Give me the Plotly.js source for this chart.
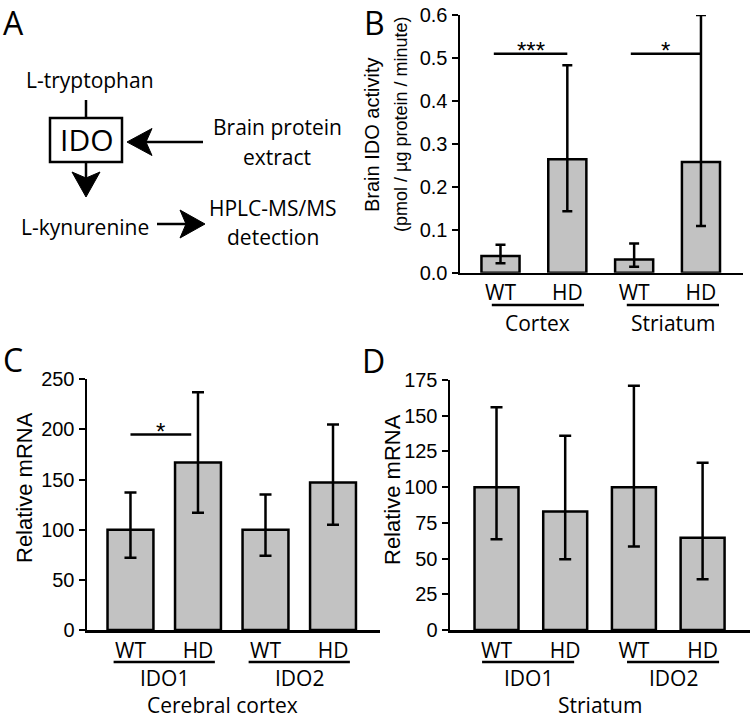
<!DOCTYPE html>
<html>
<head>
<meta charset="utf-8">
<script src="https://cdn.plot.ly/plotly-3.0.1.min.js"></script>
<style>
  body { margin: 0; background: #fff; }
  #chart { width: 750px; height: 718px; }
</style>
</head>
<body>
<div id="chart"></div>
<script>
var genotypes = ['WT', 'HD'];
var regionsB = ['Cortex', 'Striatum'];
var genesCD = ['IDO1', 'IDO2'];

// B: brain IDO activity (pmol / ug protein / minute), mean with error bar ends
var idoActivity = [0.039, 0.264, 0.031, 0.258];
var idoActivityHi = [0.065, 0.483, 0.068, 0.600];
var idoActivityLo = [0.022, 0.143, 0.014, 0.109];

// C: cerebral cortex, relative mRNA
var cortexMrna = [100, 167, 100, 147];
var cortexMrnaHi = [137, 237, 135, 205];
var cortexMrnaLo = [72, 117, 74, 105];

// D: striatum, relative mRNA
var striatumMrna = [100, 83, 100, 64.5];
var striatumMrnaHi = [156, 136, 171, 117];
var striatumMrnaLo = [63.5, 49.5, 58.5, 35.5];

var W = 750, H = 718;
function px(x) { return x / W; }
function py(y) { return 1 - y / H; }

var sans = 'Open Sans, Noto Sans, sans-serif';
var arial = 'Liberation Sans, Arial, sans-serif';

function cats(groups) {
  var out = [];
  groups.forEach(function(g) {
    genotypes.forEach(function(t) { out.push(g + ' ' + t); });
  });
  return out;
}

function barTrace(groups, vals, hi, lo, xa, ya, w, cap) {
  return {
    type: 'bar',
    x: cats(groups),
    y: vals,
    xaxis: xa,
    yaxis: ya,
    width: w,
    marker: { color: '#c2c2c2', line: { color: '#000', width: 2.5 } },
    error_y: {
      type: 'data',
      symmetric: false,
      array: vals.map(function(v, i) { return hi[i] - v; }),
      arrayminus: vals.map(function(v, i) { return v - lo[i]; }),
      color: '#000',
      thickness: 2.5,
      width: cap
    },
    hoverinfo: 'x+y',
    showlegend: false
  };
}

var data = [
  barTrace(regionsB, idoActivity, idoActivityHi, idoActivityLo, 'x', 'y', 0.57, 5),
  barTrace(genesCD, cortexMrna, cortexMrnaHi, cortexMrnaLo, 'x2', 'y2', 0.68, 6),
  barTrace(genesCD, striatumMrna, striatumMrnaHi, striatumMrnaLo, 'x3', 'y3', 0.64, 6)
];

function xAxis(groups, dom, range, anchor) {
  var c = cats(groups);
  return {
    domain: dom, anchor: anchor, type: 'category', range: range,
    showline: true, linecolor: '#000', linewidth: 2.5,
    ticks: '', showgrid: false, zeroline: false,
    tickvals: c, ticktext: c.map(function(s) { return s.split(' ')[1]; }),
    tickfont: { family: sans, size: 21, color: '#000' },
    fixedrange: true
  };
}

function yAxis(dom, range, dtick, fmt, anchor) {
  return {
    domain: dom, anchor: anchor, range: range, dtick: dtick, tickformat: fmt,
    showline: true, linecolor: '#000', linewidth: 2.5,
    ticks: 'outside', ticklen: 6, tickwidth: 2, tickcolor: '#000',
    showgrid: false, zeroline: false,
    tickfont: { family: arial, size: 20, color: '#000' },
    fixedrange: true
  };
}

var shapes = [];
var annotations = [];

function text(t, x, y, size, font, extra) {
  var a = { text: t, x: px(x), y: py(y), xref: 'paper', yref: 'paper',
    showarrow: false, font: { family: font || sans, size: size, color: '#000' },
    xanchor: 'center', yanchor: 'middle' };
  for (var k in extra) a[k] = extra[k];
  annotations.push(a);
}

function line(x0, y0, x1, y1, w) {
  shapes.push({ type: 'line', xref: 'paper', yref: 'paper',
    x0: px(x0), y0: py(y0), x1: px(x1), y1: py(y1),
    line: { color: '#000', width: w || 2.5 } });
}

// arrow head: tip point, direction unit vector, length, half width
function head(tx, ty, dx, dy, len, hw) {
  var bx = tx - dx * len, by = ty - dy * len;
  var nx = -dy, ny = dx;
  var nxp = tx - dx * (len - 6), nyp = ty - dy * (len - 6);
  var p = 'M' + px(tx) + ',' + py(ty) +
    ' L' + px(bx + nx * hw) + ',' + py(by + ny * hw) +
    ' L' + px(nxp) + ',' + py(nyp) +
    ' L' + px(bx - nx * hw) + ',' + py(by - ny * hw) + ' Z';
  shapes.push({ type: 'path', xref: 'paper', yref: 'paper', path: p,
    fillcolor: '#000', line: { color: '#000', width: 1 } });
}

// panel letters
text('A', 13, 23, 32);
text('B', 374, 23, 32);
text('C', 13, 359, 32);
text('D', 373, 360, 32);

// axis titles
text('Brain IDO activity', 372, 135, 20, arial, { textangle: -90 });
text('(pmol / µg protein / minute)', 401, 124, 18, arial, { textangle: -90 });
text('Relative mRNA', 25, 488, 22, arial, { textangle: -90 });
text('Relative mRNA', 392, 489, 22, arial, { textangle: -90 });

// panel A diagram
text('L-tryptophan', 90, 80, 21);
line(86, 100, 86, 118, 2.5);
shapes.push({ type: 'rect', xref: 'paper', yref: 'paper',
  x0: px(50), x1: px(122), y0: py(118), y1: py(162),
  line: { color: '#000', width: 2.5 } });
text('IDO', 86, 140, 30);
line(86, 162, 86, 182, 2.5);
head(86, 197, 0, 1, 25, 14);
text('Brain protein', 277, 127, 21);
text('extract', 277, 157, 21);
line(203, 142, 145, 142, 2.5);
head(127, 142, -1, 0, 25, 13.5);
text('L-kynurenine', 85, 227, 21);
line(157, 224, 188, 224, 2.5);
head(205, 224, 1, 0, 25, 14);
text('HPLC-MS/MS', 273, 208, 21);
text('detection', 273, 237, 21);

// group underlines and labels
function group(xa, center, half, yLine, yLabel, label) {
  shapes.push({ type: 'line', xref: xa, yref: 'paper',
    x0: center - half, x1: center + half, y0: py(yLine), y1: py(yLine),
    line: { color: '#000', width: 2.5 } });
  annotations.push({ text: label, xref: xa, yref: 'paper', x: center, y: py(yLabel),
    showarrow: false, xanchor: 'center', yanchor: 'middle',
    font: { family: sans, size: 21, color: '#000' } });
}
group('x', 0.56, 0.69, 305, 323, regionsB[0]);
group('x', 2.58, 0.69, 305, 323, regionsB[1]);
group('x2', 0.5, 0.75, 662, 678, genesCD[0]);
group('x2', 2.5, 0.75, 662, 678, genesCD[1]);
group('x3', 0.46, 0.67, 662, 678, genesCD[0]);
group('x3', 2.57, 0.67, 662, 678, genesCD[1]);
text('Cerebral cortex', 222, 705, 21);
text('Striatum', 600, 705, 21);

// significance bars
function sig(xa, ya, x0, x1, y, stars) {
  shapes.push({ type: 'line', xref: xa, yref: ya, x0: x0, x1: x1, y0: y, y1: y,
    line: { color: '#000', width: 2.5 } });
  annotations.push({ text: stars, xref: xa, yref: ya, x: (x0 + x1) / 2, y: y,
    showarrow: false, xanchor: 'center', yanchor: 'middle', yshift: 3,
    font: { family: arial, size: 24, color: '#000' } });
}
sig('x', 'y', -0.1, 1.0, 0.51, '***');
sig('x', 'y', 1.95, 3.0, 0.51, '*');
sig('x2', 'y2', 0.0, 0.9, 195, '*');

var layout = {
  width: W, height: H,
  margin: { l: 0, r: 0, t: 0, b: 0 },
  paper_bgcolor: '#fff', plot_bgcolor: 'rgba(0,0,0,0)',
  showlegend: false,
  xaxis: xAxis(regionsB, [px(460), px(743)], [-0.606, 3.629], 'y'),
  yaxis: yAxis([py(272.7), py(15)], [0, 0.6], 0.1, '.1f', 'x'),
  xaxis2: xAxis(genesCD, [px(87), px(380)], [-0.644, 3.696], 'y2'),
  yaxis2: yAxis([py(630), py(379.3)], [0, 250], 50, 'd', 'x2'),
  xaxis3: xAxis(genesCD, [px(450), 1], [-0.677, 3.69], 'y3'),
  yaxis3: yAxis([py(630), py(380)], [0, 175], 25, 'd', 'x3'),
  shapes: shapes,
  annotations: annotations
};

Plotly.newPlot('chart', data, layout, { displayModeBar: false, staticPlot: true });
</script>
</body>
</html>
